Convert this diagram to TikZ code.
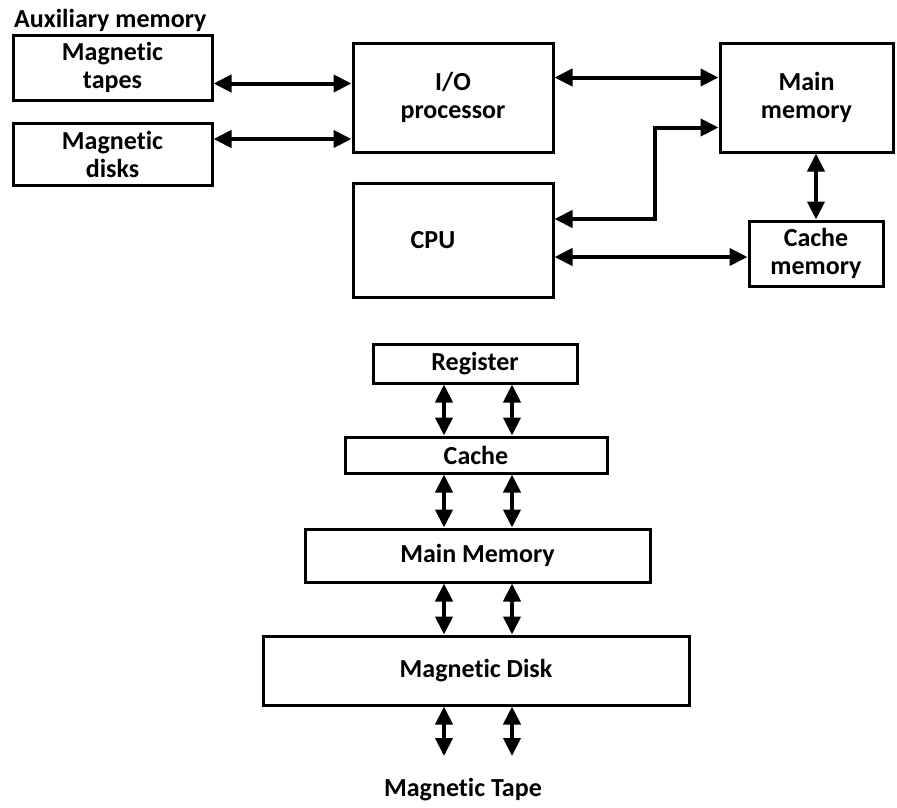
\documentclass[tikz,border=0pt]{standalone}
\usepackage{fontspec}
\setmainfont{Carlito}[Ligatures=NoCommon]
\usetikzlibrary{arrows.meta}

\tikzset{
    memblock/.style={draw, line width=3pt, inner sep=0pt, align=center},
    memlink/.style={{Triangle[length=18pt,width=17pt]}-{Triangle[length=18pt,width=17pt]}, line width=4pt},
}

\begin{document}
\begin{tikzpicture}[x=1pt,y=-1pt,font=\fontsize{26}{28}\selectfont\bfseries]

        \useasboundingbox (0,0) rectangle (897,807);

        \node[anchor=west, inner sep=0pt] (aux) at (14,20) {Auxiliary memory};
        \node[memblock, minimum width=199, minimum height=65] (tapes) at (112.5,67.5) {Magnetic\\tapes};
        \node[memblock, minimum width=199, minimum height=62] (disks) at (112.5,154) {Magnetic\\disks};
        \node[memblock, minimum width=200, minimum height=109] (io) at (453,97.5) {I/O\\processor};
        \node[memblock, minimum width=200, minimum height=114] (cpu) at (453,240) {CPU\hspace{40pt}};
        \node[memblock, minimum width=173, minimum height=109] (mainmem) at (806.5,97.5) {Main\\memory};
        \node[memblock, minimum width=134, minimum height=65] (cachemem) at (816,253.5) {Cache\\memory};

        \path[memlink]
        ([yshift=-16pt]tapes.east) edge ([yshift=-16pt]tapes.east -| io.west)
        ([yshift=15pt]disks.east) edge ([yshift=15pt]disks.east -| io.west)
        ([yshift=20pt]io.east) edge ([yshift=20pt]io.east -| mainmem.west)
        ([yshift=-17pt]cpu.east) edge ([yshift=-17pt]cpu.east -| cachemem.west)
        (cachemem.north) edge (cachemem.north |- mainmem.south)
        ;
        \draw[memlink] ([yshift=21pt]cpu.east) -- ++(100,0) |- ([yshift=-30pt]mainmem.west);

        \node[memblock, minimum width=204, minimum height=39] (register) at (475,363.5) {Register};
        \node[memblock, minimum width=262, minimum height=36] (cache) at (476,455) {Cache};
        \node[memblock, minimum width=345, minimum height=53] (mm) at (477.5,555.5) {Main Memory};
        \node[memblock, minimum width=426, minimum height=69] (disk) at (476,670.5) {Magnetic Disk};
        \node (tape) at (463,790) {Magnetic Tape};

        \coordinate (colL) at (444,0);
        \coordinate (colR) at (512,0);
        \coordinate (tapeend) at (478,756);

        \foreach \a/\b in {register/cache, cache/mm, mm/disk}
            \foreach \c in {colL, colR}
                \draw[memlink] (\a.south -| \c) -- (\b.north -| \c);
        \foreach \c in {colL, colR}
            \draw[memlink] (disk.south -| \c) -- (tapeend -| \c);

    \end{tikzpicture}
\end{document}
